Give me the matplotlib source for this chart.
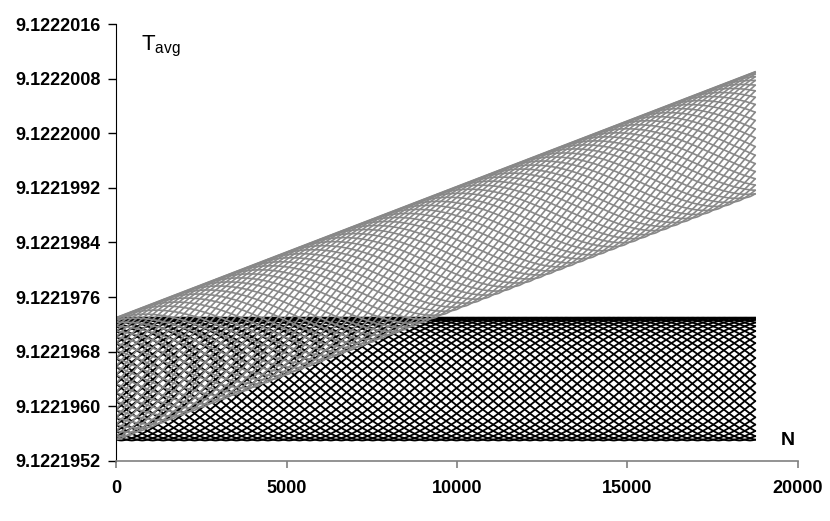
import numpy as np
import matplotlib
matplotlib.use('Agg')
import matplotlib.pyplot as plt
from matplotlib.ticker import FormatStrFormatter

plt.rcParams['font.family'] = ['Liberation Sans', 'DejaVu Sans']

# envelope of each series (N at start and end)
n_knots = [0, 18740]
black_low = [9.1221955, 9.1221955]
black_high = [9.1221973, 9.1221973]
grey_low = [9.1221955, 9.1221991]
grey_high = [9.1221973, 9.1222009]

yticks = [9.1221952, 9.1221960, 9.1221968, 9.1221976, 9.1221984,
          9.1221992, 9.1222000, 9.1222008, 9.1222016]
xticks = [0, 5000, 10000, 15000, 20000]

# the dense oscillation shows up as a crosshatch of strands
n_strands = 41
strand_period = 12600
skew = 0.77   # strands bunch up towards the top of the band

fig = plt.figure(figsize=(8.3, 5.21), dpi=100)
ax = fig.add_axes([0.1398, 0.1152, 0.8216, 0.8387])

n = np.linspace(n_knots[0], n_knots[1], 3000)


def draw_series(low, high, color, lw):
    lo = np.interp(n, n_knots, low)
    hi = np.interp(n, n_knots, high)
    for k in range(n_strands):
        ph = 2 * np.pi * n / strand_period + 2 * np.pi * k / n_strands
        u = ((1 + np.cos(ph)) / 2) ** skew
        ax.plot(n, lo + (hi - lo) * u, color=color, lw=lw)


draw_series(black_low, black_high, 'black', 1.3)
draw_series(grey_low, grey_high, '#888888', 1.2)

ax.set_xlim(0, 20000)
ax.set_ylim(yticks[0], yticks[-1])
ax.set_yticks(yticks)
ax.set_xticks(xticks)
ax.yaxis.set_major_formatter(FormatStrFormatter('%.7f'))

for s in ['top', 'right']:
    ax.spines[s].set_visible(False)
ax.spines['left'].set_color('black')
ax.spines['bottom'].set_color('#808080')
ax.spines['bottom'].set_linewidth(1.2)
ax.tick_params(axis='y', direction='out', length=6, width=1, pad=5, colors='black')
ax.tick_params(axis='x', direction='out', length=5, width=1.2, pad=9,
               color='#808080', labelcolor='black')
for lab in ax.get_xticklabels() + ax.get_yticklabels():
    lab.set_fontsize(13)
    lab.set_fontweight('bold')

ax.text(0.036, 0.94, r'$\mathregular{T_{avg}}$', transform=ax.transAxes,
        fontsize=16, ha='left', va='baseline')
ax.text(0.985, 0.048, 'N', transform=ax.transAxes, fontsize=14,
        fontweight='bold', ha='center', va='center')

fig.savefig('out.png', dpi=100)
